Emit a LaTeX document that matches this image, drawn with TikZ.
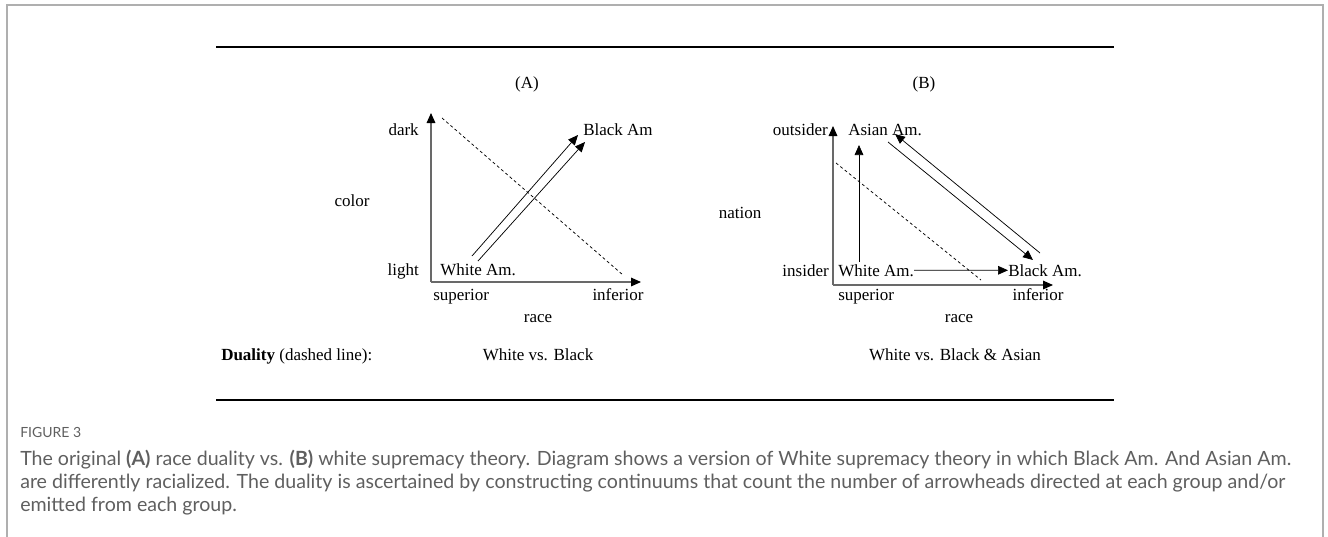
\documentclass[tikz,border=0pt]{standalone}
\usepackage{fontspec}
\setmainfont{Liberation Serif}
\newfontfamily\capfont{Lato}
\usetikzlibrary{arrows.meta}
\definecolor{framegray}{RGB}{175,175,175}
\definecolor{capgray}{RGB}{95,95,95}
\definecolor{axisgray}{RGB}{105,105,105}

\begin{document}
\begin{tikzpicture}[x=0.75pt,y=-0.75pt,
		lbl/.style={font=\fontsize{12.75}{15}\selectfont,inner sep=0pt,anchor=mid},
		axis/.style={axisgray,line width=0.85pt,-{Triangle[length=7.5pt,width=6.5pt,color=black]}},
		arr/.style={line width=0.55pt,-{Triangle[length=7.5pt,width=6.5pt]}},
		duality/.style={line width=0.55pt,dash pattern=on 2.2pt off 2pt}]
		\useasboundingbox (0,0) rectangle (1328,536);
		% page frame and rules
		\draw[framegray,line width=1pt] (7,560) -- (7,5) -- (1323,5) -- (1323,560);
		\draw[line width=1.3pt] (216,47) -- (1114,47);
		\draw[line width=1.3pt] (216,400) -- (1114,400);
		% (A) race duality
		\node[lbl] (titleA) at (527,85) {(A)};
		\coordinate (oA) at (431,282);
		\coordinate (yA) at (431,113);
		\coordinate (xA) at (641,282);
		\draw[axis] (oA) -- (yA);
		\draw[axis] (oA) -- (xA);
		\node[lbl,anchor=mid east] (darkA)  at (419,132) {dark};
		\node[lbl]                 (colorA) at (352,203) {color};
		\node[lbl,anchor=mid east] (lightA) at (419,272) {light};
		\node[lbl,anchor=mid west] (whiteA) at (440,272) {White Am.};
		\node[lbl,anchor=mid west] (blackA) at (583,132) {Black Am};
		\node[lbl,anchor=mid west] (supA)   at (433,297) {superior};
		\node[lbl]                 (infA)   at (618,297) {inferior};
		\node[lbl]                 (raceA)  at (538,319) {race};
		% dashed line
		\coordinate (dA1) at (442,118);
		\coordinate (dA2) at (623,275);
		\draw[duality] (dA1) -- (dA2);
		% White Am. -> Black Am (twice)
		\coordinate (wA1) at (472,256);
		\coordinate (bA1) at (578,135);
		\coordinate (wA2) at (478,261);
		\coordinate (bA2) at (585,142);
		\draw[arr] (wA1) -- (bA1);
		\draw[arr] (wA2) -- (bA2);
		% (B) white supremacy
		\node[lbl] (titleB) at (924,85) {(B)};
		\coordinate (oB) at (833,285);
		\coordinate (yB) at (833,126);
		\coordinate (xB) at (1053,285);
		\draw[axis] (oB) -- (yB);
		\draw[axis] (oB) -- (xB);
		\node[lbl,anchor=mid east] (outB)    at (828,132) {outsider};
		\node[lbl,anchor=mid west] (asianB)  at (848,132) {Asian Am.};
		\node[lbl]                 (nationB) at (740,215) {nation};
		\node[lbl,anchor=mid east] (inB)     at (829,273) {insider};
		\node[lbl,anchor=mid west] (whiteB)  at (838,273) {White Am.};
		\node[lbl,anchor=mid west] (blackB)  at (1008,273) {Black Am.};
		\node[lbl,anchor=mid west] (supB)    at (838,297) {superior};
		\node[lbl]                 (infB)    at (1038,297) {inferior};
		\node[lbl]                 (raceB)   at (959,319) {race};
		% dashed line
		\coordinate (dB1) at (836,163);
		\coordinate (dB2) at (981,280);
		\draw[duality] (dB1) -- (dB2);
		% White Am. -> Asian Am., White Am. -> Black Am.
		\coordinate (wB1) at (859,262);
		\coordinate (aB1) at (859,145);
		\draw[arr] (wB1) -- (aB1);
		\draw[arr] (whiteB.east) -- (blackB.west);
		% Asian Am. <-> Black Am.
		\coordinate (aB2) at (888,142);
		\coordinate (bB2) at (1033,260);
		\coordinate (bB3) at (1040,253);
		\coordinate (aB3) at (895,134);
		\draw[arr] (aB2) -- (bB2);
		\draw[arr] (bB3) -- (aB3);
		% duality row
		\node[lbl,anchor=mid west] (dualLbl) at (221,357) {\textbf{Duality} (dashed line):};
		\node[lbl] (dualA) at (538,357) {White vs. Black};
		\node[lbl] (dualB) at (955,357) {White vs. Black \& Asian};
		% caption
		\node[anchor=mid west,inner sep=0pt,text=capgray,font=\capfont\fontsize{10.5}{12}\selectfont] (figno) at (20,434) {FIGURE 3};
		\node[anchor=north west,align=left,inner sep=0pt,text=capgray,font=\capfont\fontsize{14.7}{17.3}\selectfont] (capt) at (20,450)
			{The original \textbf{(A)} race duality vs. \textbf{(B)} white supremacy theory. Diagram shows a version of White supremacy theory in which Black Am. And Asian Am.\\
			are differently racialized. The duality is ascertained by constructing continuums that count the number of arrowheads directed at each group and/or\\
			emitted from each group.};
	\end{tikzpicture}
\end{document}
